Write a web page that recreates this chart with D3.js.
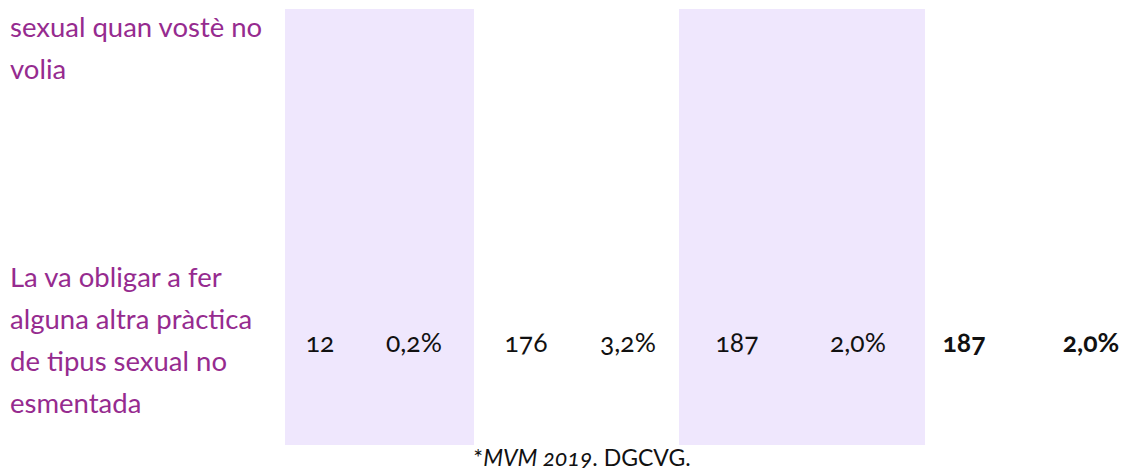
<!DOCTYPE html>
<html>
<head>
<meta charset="utf-8">
<script src="https://cdn.jsdelivr.net/npm/d3@7"></script>
<style>
  body { margin: 0; background: #fff; }
  svg text { font-family: Lato, "Open Sans", sans-serif; font-variant-numeric: oldstyle-nums; font-feature-settings: "onum" 1; }
</style>
</head>
<body>
<div id="chart-area"></div>
<script>
// table rows (first row is cut at the top of the picture)
const rowLabels = [
	["sexual quan vostè no", "volia"],
	["La va obligar a fer", "alguna altra pràctica", "de tipus sexual no", "esmentada"]
]
const columns = ["g1n", "g1p", "g2n", "g2p", "g3n", "g3p", "totn", "totp"]
const rowValues = [
	null,
	["12", "0,2%", "176", "3,2%", "187", "2,0%", "187", "2,0%"]
]
const boldColumns = ["totn", "totp"]
const shadedGroups = ["g1", "g3"]
const sourceNote = [{ t: "*", i: false }, { t: "MVM 2019", i: true }, { t: ". DGCVG.", i: false }]

const width = 1128
const height = 472

const svg = d3.select("#chart-area").append("svg")
	.attr("width", width)
	.attr("height", height)

// horizontal layout of groups and their sub-columns
const groupX = d3.scaleOrdinal()
	.domain(["g1", "g2", "g3", "tot"])
	.range([[285, 474], [474, 679], [679, 925], [925, 1128]])

const colX = d3.scaleOrdinal()
	.domain(columns)
	.range([320, 414, 526, 628, 737, 858, 964, 1091])

// vertical position of each row's centre
const rowY = d3.scaleOrdinal()
	.domain([0, 1])
	.range([37, 342])

const lineH = 42

svg.selectAll("rect.shade")
	.data(shadedGroups)
	.enter().append("rect")
	.attr("class", "shade")
	.attr("x", d => groupX(d)[0])
	.attr("width", d => groupX(d)[1] - groupX(d)[0])
	.attr("y", 9)
	.attr("height", 436)
	.attr("fill", "#efe7fd")

// row labels
rowLabels.forEach((lines, ri) => {
	// first row only shows its last two lines
	const first = ri === 0 ? 37 : rowY(ri) - (lines.length - 1) * lineH / 2 + 8
	svg.append("g").selectAll("text")
		.data(lines)
		.enter().append("text")
		.attr("x", 10)
		.attr("y", (d, i) => first + i * lineH)
		.attr("font-size", "27.5px")
		.attr("fill", "#962b8f")
		.text(d => d)
})

// cell values
rowValues.forEach((vals, ri) => {
	if (!vals) return
	svg.append("g").selectAll("text")
		.data(vals)
		.enter().append("text")
		.attr("x", (d, i) => colX(columns[i]))
		.attr("y", rowY(ri) + 10)
		.attr("text-anchor", "middle")
		.attr("font-size", "26.5px")
		.attr("font-weight", (d, i) => boldColumns.includes(columns[i]) ? "bold" : "normal")
		.attr("fill", "#111")
		.text(d => d)
})

// source
const note = svg.append("text")
	.attr("x", 582)
	.attr("y", 466)
	.attr("text-anchor", "middle")
	.attr("font-size", "23px")
	.attr("fill", "#111")
note.selectAll("tspan")
	.data(sourceNote)
	.enter().append("tspan")
	.attr("font-style", d => d.i ? "italic" : "normal")
	.text(d => d.t)
</script>
</body>
</html>
